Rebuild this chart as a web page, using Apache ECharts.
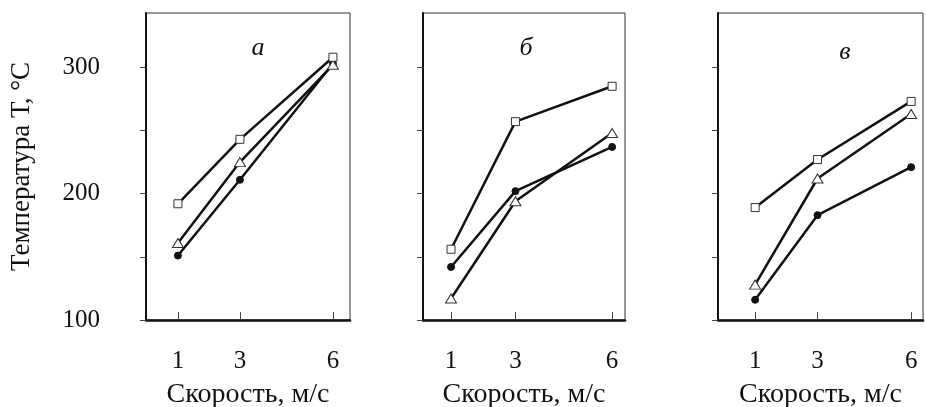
<!DOCTYPE html>
<html>
<head>
<meta charset="utf-8" />
<title></title>
<script src="https://cdn.jsdelivr.net/npm/echarts@6/dist/echarts.min.js"></script>
<style>
  html, body { margin: 0; padding: 0; background: #fff; }
</style>
</head>
<body>
<div id="main" style="width: 926px; height: 407px;"></div>
<script>
// скорость, м/с
var speeds = [1, 3, 6];
var yTicks = [100, 150, 200, 250, 300];
var yLabels = [100, 200, 300];
var panelNames = ['а', 'б', 'в'];

// а
var aSquare = [192, 243, 308];
var aTriangle = [161, 225, 302];
var aCircle = [151, 211, 303];
// б
var bSquare = [156, 257, 285];
var bTriangle = [117, 194, 248];
var bCircle = [142, 202, 237];
// в
var vSquare = [189, 227, 273];
var vTriangle = [128, 212, 263];
var vCircle = [116, 183, 221];

var panelData = [
  [aSquare, aTriangle, aCircle],
  [bSquare, bTriangle, bCircle],
  [vSquare, vTriangle, vCircle]
];

var font = 'Liberation Serif, Times New Roman, serif';
var grids = [
  { left: 146, top: 13, width: 204, height: 307, xmin: -0.03, xmax: 6.55 },
  { left: 423, top: 13, width: 202, height: 307, xmin: 0.13, xmax: 6.40 },
  { left: 718, top: 13, width: 205, height: 307, xmin: -0.19, xmax: 6.38 }
];
var letterPos = [[258, 48], [526, 48], [845, 52]];

function pairs(vals) {
  return speeds.map(function (s, i) { return [s, vals[i]]; });
}

var option = {
  backgroundColor: '#fff',
  animation: false,
  graphic: [],
  grid: [],
  xAxis: [],
  yAxis: [],
  series: []
};

grids.forEach(function (g, i) {
  option.grid.push({
    left: g.left, top: g.top, width: g.width, height: g.height,
    containLabel: false, outerBoundsMode: 'none',
    show: true, borderColor: '#333', borderWidth: 1, backgroundColor: 'transparent'
  });
  option.graphic.push({
    type: 'text', x: letterPos[i][0], y: letterPos[i][1],
    style: {
      text: panelNames[i], font: 'italic 26px ' + font, fill: '#111',
      textAlign: 'center', textVerticalAlign: 'middle'
    }
  });
  option.xAxis.push({
    type: 'value', gridIndex: i, min: g.xmin, max: g.xmax,
    name: 'Скорость, м/с', nameLocation: 'middle', nameGap: 61,
    nameTextStyle: { fontFamily: font, fontSize: 28, color: '#111' },
    axisLine: { onZero: false, lineStyle: { color: '#111', width: 2.5 } },
    axisTick: { show: true, inside: true, length: 8, customValues: speeds, lineStyle: { color: '#444', width: 1 } },
    axisLabel: { customValues: speeds, margin: 29, fontFamily: font, fontSize: 25, color: '#111' },
    splitLine: { show: false }
  });
  option.yAxis.push({
    type: 'value', gridIndex: i, min: 100, max: 343,
    name: i === 0 ? 'Температура Т, °С' : '', nameLocation: 'middle', nameGap: 111,
    nameTextStyle: { fontFamily: font, fontSize: 27, color: '#111' },
    axisLine: { show: true, onZero: false, lineStyle: { color: '#111', width: 2 } },
    axisTick: { show: true, length: 6, customValues: yTicks, lineStyle: { color: '#444', width: 1 } },
    axisLabel: { show: i === 0, customValues: yLabels, margin: 46, fontFamily: font, fontSize: 25, color: '#111' },
    splitLine: { show: false }
  });
  var d = panelData[i];
  var common = { type: 'line', xAxisIndex: i, yAxisIndex: i, lineStyle: { color: '#111', width: 2.5 } };
  option.series.push(Object.assign({}, common, {
    data: pairs(d[2]), symbol: 'circle', symbolSize: 7,
    itemStyle: { color: '#111', borderColor: '#111', borderWidth: 1 }
  }));
  option.series.push(Object.assign({}, common, {
    data: pairs(d[1]), symbol: 'triangle', symbolSize: [11, 9],
    itemStyle: { color: '#fff', borderColor: '#333', borderWidth: 1 }
  }));
  option.series.push(Object.assign({}, common, {
    data: pairs(d[0]), symbol: 'rect', symbolSize: 8,
    itemStyle: { color: '#fff', borderColor: '#333', borderWidth: 1 }
  }));
});

var chart = echarts.init(document.getElementById('main'));
chart.setOption(option);
</script>
</body>
</html>
